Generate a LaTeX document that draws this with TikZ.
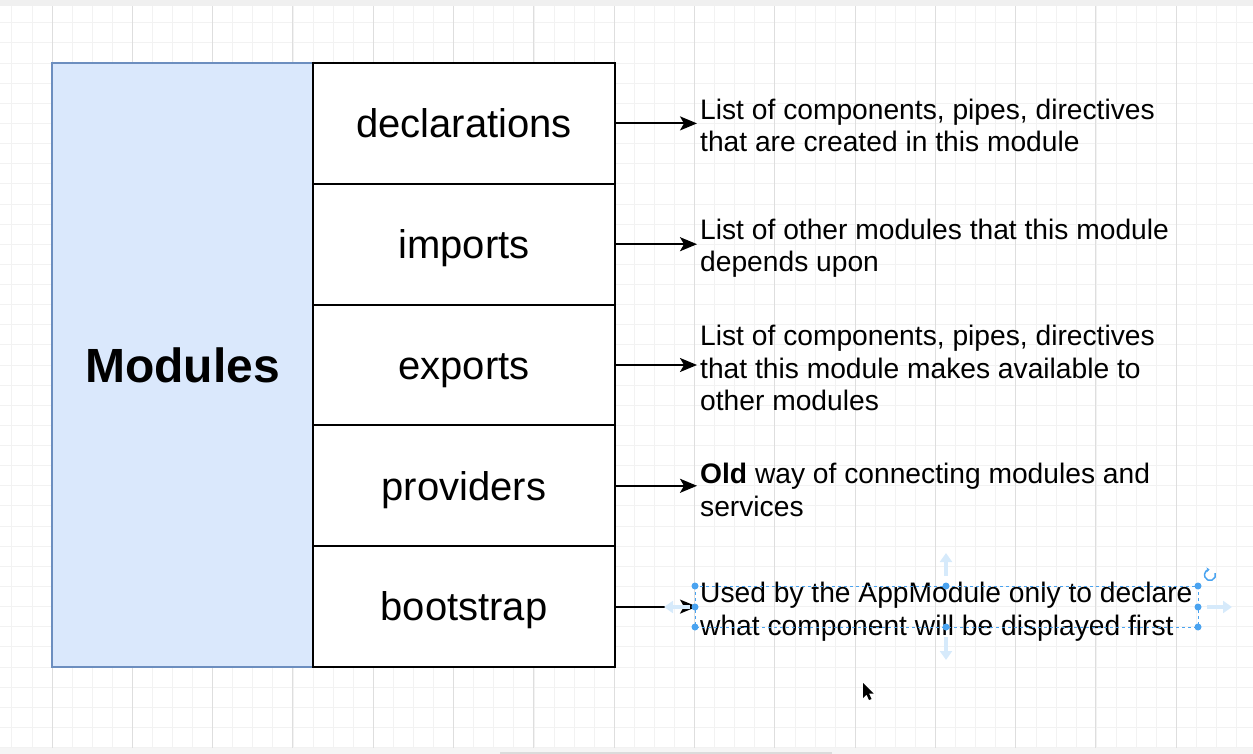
\documentclass[tikz,border=0pt]{standalone}
\usepackage{fontspec}
\setmainfont{Liberation Sans}
\usetikzlibrary{positioning}
\usetikzlibrary{arrows.meta}
\definecolor{modfill}{HTML}{DAE8FC}
\definecolor{moddraw}{HTML}{6C8EBF}
\definecolor{selblue}{HTML}{4AA3F0}
\definecolor{hoverblue}{HTML}{D6EAFB}

\begin{document}
\begin{tikzpicture}[x=1pt, y=-1pt,
  modbox/.style={draw=moddraw, fill=modfill, line width=1.5pt,
                 minimum width=261pt, minimum height=604pt, outer sep=0pt,
                 font=\fontsize{48}{56}\selectfont\bfseries},
  cell/.style={draw=black, fill=white, line width=2pt,
               minimum width=302pt, minimum height=120.8pt, outer sep=0pt,
               text height=37pt, text depth=8.5pt,
               font=\fontsize{40}{48}\selectfont},
  desc/.style={align=left, inner xsep=3pt, inner ysep=0pt,
               font=\fontsize{28.2}{32.5}\selectfont},
  link/.style={-{Stealth[length=17pt, width=14pt, inset=4pt]}, line width=2pt},
  gridminor/.style={line width=0.8pt, black!5},
  gridmajor/.style={line width=0.9pt, black!13},
  handle/.style={circle, fill=selblue, inner sep=0pt, minimum size=7pt}]
  \useasboundingbox (0,0) rectangle (1253,754);
  % canvas grid, every fourth line darker
  \foreach \i in {-2,...,59}
    \draw[gridminor] ({52+20.08*\i},6) -- ({52+20.08*\i},748);
  \foreach \j in {-2,...,34}
    \draw[gridminor] (0,{63+20.13*\j}) -- (1253,{63+20.13*\j});
  \foreach \i in {0,...,14}
    \draw[gridmajor] ({52+80.3*\i},6) -- ({52+80.3*\i},748);
  % window strips and scroll bar
  \fill[black!6] (0,0) rectangle (1253,6);
  \fill[black!4] (0,748) rectangle (1253,754);
  \fill[black!14] (500,752) rectangle (832,754);
  % module box and its fields
  \node[modbox, anchor=north west] (modules) at (52,63) {Modules};
  \node[cell, anchor=north west] (decl) at (modules.north east) {declarations};
  \node[cell, below=0pt of decl] (imps) {imports};
  \node[cell, below=0pt of imps] (exps) {exports};
  \node[cell, below=0pt of exps] (provs) {providers};
  \node[cell, below=0pt of provs] (boot) {bootstrap};
  % what each field holds
  \node[desc, right=82pt of decl, yshift=-2pt] (ddecl)
    {List of components, pipes, directives\\that are created in this module};
  \node[desc, right=82pt of imps, yshift=-4pt] (dimps)
    {List of other modules that this module\\depends upon};
  \node[desc, right=82pt of exps, yshift=-3pt] (dexps)
    {List of components, pipes, directives\\that this module makes available to\\other modules};
  \node[desc, right=82pt of provs, yshift=-4pt] (dprovs)
    {\textbf{Old} way of connecting modules and\\services};
  \node[desc, right=82pt of boot, yshift=-5pt] (dboot)
    {Used by the AppModule only to declare\\what component will be displayed first};
  \draw[link] (decl.east) -- (decl.east -| ddecl.west);
  \draw[link] (imps.east) -- (imps.east -| dimps.west);
  \draw[link] (exps.east) -- (exps.east -| dexps.west);
  \draw[link] (provs.east) -- (provs.east -| dprovs.west);
  \draw[link] (boot.east) -- (boot.east -| dboot.west);
  % editor selection on the last text
  \draw[hoverblue, line width=4pt, -{Triangle[length=9pt, width=12pt]}] (946,576) -- (946,553);
  \draw[hoverblue, line width=4pt, -{Triangle[length=9pt, width=12pt]}] (946,637) -- (946,660);
  \draw[hoverblue, line width=4pt, -{Triangle[length=9pt, width=12pt]}] (1207,607) -- (1232,607);
  \draw[hoverblue, line width=4pt, -{Triangle[length=9pt, width=12pt]}] (690,607) -- (664,607);
  \draw[selblue, dashed, line width=0.8pt] (695,586) rectangle (1198,627);
  \foreach \p in {(695,586),(946,586),(1198,586),(695,607),(1198,607),(695,627),(946,627),(1198,627)}
    \node[handle] at \p {};
  \draw[selblue, line width=1.5pt, -{Stealth[length=3pt, width=5pt]}]
    ([shift={(1210,575)}]-20:5.5) arc[start angle=-20, end angle=265, radius=5.5];
  % mouse pointer
  \fill[black] (863,683) -- (863,698) -- (866.5,694.5) -- (869,700) -- (871.5,699) -- (869,693.5) -- (873.5,693.5) -- cycle;
\end{tikzpicture}
\end{document}
